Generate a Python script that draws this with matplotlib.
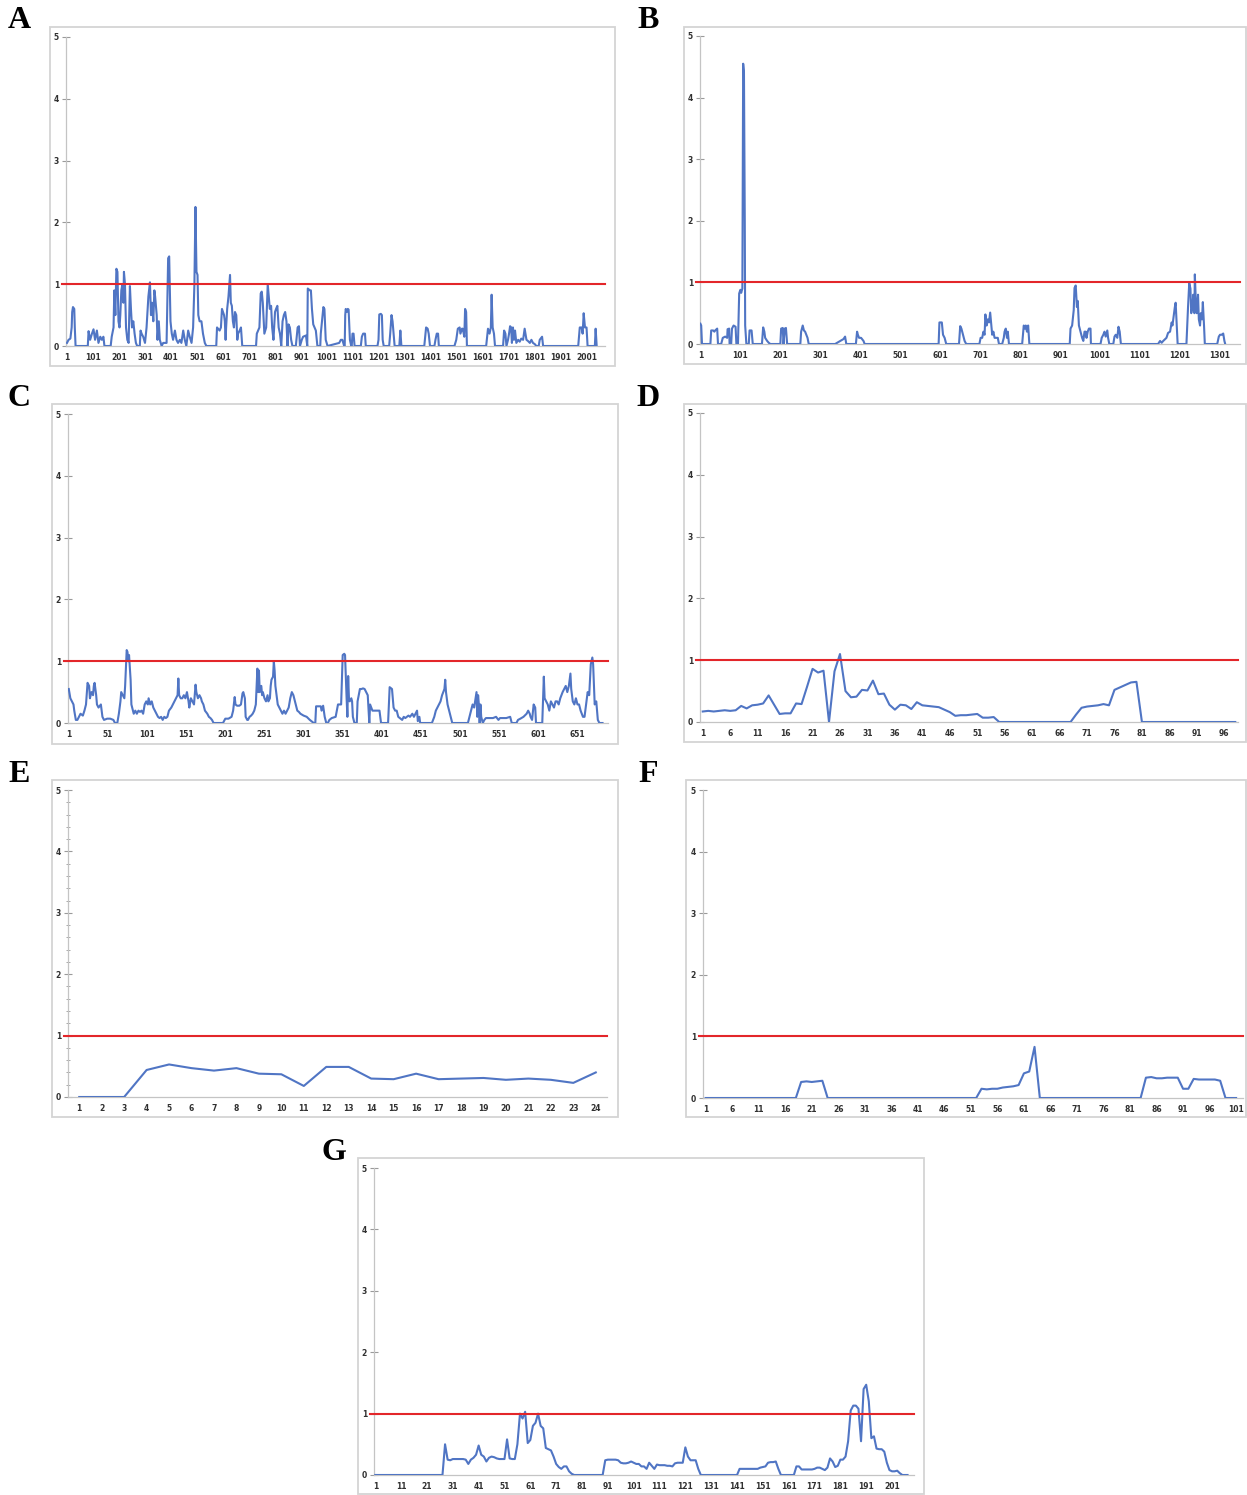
import numpy as np
import matplotlib
matplotlib.use("Agg")
import matplotlib.pyplot as plt
from matplotlib.patches import Rectangle

# ---------------- data ----------------
# A: vertices (position, value)
A_X = [1, 7, 14, 19, 21, 24, 29, 31, 34, 81, 84, 90, 97, 103, 109, 116, 122, 129, 135, 141, 145,
       169, 173, 180, 183, 187, 191, 195, 199, 203, 206, 210, 214, 218, 220, 224, 228, 233, 238, 243,
       247, 251, 256, 261, 266, 271, 281, 284, 288, 294, 301, 307, 314, 320, 324, 328, 333, 337, 340,
       346, 349, 354, 358, 365, 371, 384, 390, 394, 399, 404, 409, 416, 422, 428, 435, 441, 448, 454,
       460, 467, 473, 480, 486, 491, 495, 499, 503, 506, 511, 518, 524, 531, 537, 575, 578, 588, 593,
       597, 601, 605, 608, 611, 613, 617, 622, 628, 631, 635, 639, 643, 647, 652, 656, 659, 665, 670,
       675, 728, 731, 741, 746, 750, 754, 760, 767, 773, 777, 781, 786, 790, 795, 801, 805, 810, 815,
       820, 825, 830, 835, 840, 845, 849, 853, 858, 863, 868, 881, 888, 893, 897, 904, 909, 920, 925,
       927, 935, 939, 943, 948, 953, 958, 964, 975, 977, 984, 987, 991, 996, 1003, 1048, 1054, 1060,
       1067, 1069, 1071, 1073, 1077, 1081, 1084, 1089, 1094, 1096, 1099, 1103, 1107, 1131, 1135, 1140,
       1147, 1150, 1195, 1199, 1202, 1208, 1212, 1215, 1219, 1240, 1244, 1249, 1253, 1257, 1261, 1279,
       1283, 1287, 1375, 1382, 1388, 1392, 1397, 1414, 1418, 1423, 1428, 1431, 1491, 1498, 1504, 1511,
       1514, 1520, 1523, 1529, 1532, 1536, 1539, 1613, 1620, 1626, 1631, 1634, 1638, 1643, 1647, 1678,
       1682, 1687, 1691, 1697, 1701, 1705, 1709, 1712, 1716, 1720, 1724, 1729, 1736, 1742, 1748, 1755,
       1761, 1768, 1774, 1781, 1787, 1793, 1800, 1806, 1815, 1819, 1828, 1832, 1967, 1973, 1980, 1984,
       1988, 1993, 1999, 2003, 2031, 2034, 2038]
A_Y = [0.05, 0.1, 0.12, 0.3, 0.55, 0.63, 0.6, 0.3, 0, 0, 0.24, 0.1, 0.2, 0.27, 0.1, 0.25, 0.05, 0.15,
       0.1, 0.15, 0, 0, 0.15, 0.3, 0.9, 0.5, 1.25, 1.2, 0.4, 0.3, 0.5, 0.9, 1.0, 0.7, 1.2, 1.0, 0.3,
       0.1, 0.05, 0.97, 0.6, 0.3, 0.4, 0.2, 0.05, 0, 0, 0.25, 0.2, 0.15, 0.05, 0.3, 0.8, 1.03, 0.5,
       0.7, 0.4, 0.9, 0.8, 0.5, 0.1, 0.4, 0.1, 0, 0.05, 0.05, 1.42, 1.45, 0.4, 0.2, 0.1, 0.25, 0.1,
       0.05, 0.1, 0.05, 0.25, 0.1, 0, 0.25, 0.15, 0.05, 0.3, 1.0, 2.25, 1.2, 1.15, 0.5, 0.4, 0.4, 0.2,
       0.05, 0, 0, 0.3, 0.25, 0.3, 0.6, 0.55, 0.5, 0.4, 0.1, 0.3, 0.6, 0.8, 1.15, 0.7, 0.65, 0.4, 0.3,
       0.55, 0.5, 0.1, 0.2, 0.25, 0.3, 0, 0, 0.2, 0.3, 0.85, 0.88, 0.7, 0.2, 0.3, 1.0, 0.8, 0.6, 0.65,
       0.3, 0.1, 0.55, 0.6, 0.65, 0.3, 0.2, 0, 0.4, 0.5, 0.55, 0.4, 0, 0.35, 0.3, 0.1, 0, 0, 0.3, 0.32,
       0, 0.1, 0.15, 0.17, 0, 0.93, 0.9, 0.9, 0.6, 0.35, 0.3, 0.25, 0, 0, 0.2, 0.5, 0.63, 0.6, 0.1, 0,
       0.05, 0.1, 0.1, 0, 0, 0.5, 0.6, 0.55, 0.6, 0.59, 0.1, 0, 0, 0.2, 0.2, 0, 0, 0.15, 0.2, 0.2, 0,
       0, 0.1, 0.51, 0.52, 0.5, 0.1, 0, 0, 0.2, 0.5, 0.4, 0.2, 0, 0, 0.25, 0, 0, 0.3, 0.28, 0.2, 0, 0,
       0.1, 0.2, 0.2, 0, 0, 0.1, 0.28, 0.3, 0.2, 0.28, 0.28, 0.15, 0.6, 0.55, 0, 0, 0.28, 0.2, 0.3,
       0.83, 0.3, 0.2, 0, 0, 0.25, 0.2, 0, 0.1, 0.2, 0.32, 0.3, 0.05, 0.3, 0.1, 0.25, 0.05, 0.1, 0.07,
       0.12, 0.1, 0.28, 0.1, 0.08, 0.05, 0.1, 0.05, 0.03, 0, 0, 0.1, 0.15, 0, 0, 0.3, 0.3, 0.2, 0.53,
       0.3, 0.3, 0, 0, 0.28, 0]

B_X = [1, 3, 5, 26, 28, 33, 36, 38, 43, 45, 53, 57, 63, 68, 69, 73, 74, 78, 80, 84, 89, 91, 95, 98,
       101, 103, 106, 108, 110, 112, 113, 116, 122, 124, 129, 132, 155, 158, 161, 163, 168, 172, 176,
       201, 203, 207, 209, 212, 215, 218, 251, 253, 257, 260, 263, 266, 269, 272, 338, 343, 351, 359,
       363, 366, 390, 393, 395, 398, 403, 409, 412, 597, 599, 605, 608, 612, 616, 648, 651, 654, 658,
       662, 666, 699, 702, 706, 709, 712, 714, 717, 720, 723, 726, 729, 731, 734, 737, 745, 748, 756,
       760, 762, 765, 768, 770, 773, 806, 810, 813, 815, 818, 821, 824, 925, 927, 931, 935, 937, 940,
       943, 945, 948, 952, 956, 959, 962, 965, 967, 970, 973, 977, 978, 1002, 1005, 1009, 1012, 1015,
       1019, 1021, 1024, 1034, 1037, 1040, 1044, 1047, 1050, 1053, 1146, 1151, 1155, 1159, 1167, 1171,
       1176, 1180, 1182, 1185, 1188, 1190, 1192, 1195, 1217, 1221, 1224, 1227, 1229, 1232, 1234, 1237,
       1238, 1241, 1243, 1246, 1248, 1251, 1253, 1256, 1258, 1261, 1263, 1294, 1298, 1301, 1305, 1309,
       1312, 1314]
B_Y = [0.33, 0.3, 0, 0, 0.22, 0.22, 0.2, 0.22, 0.25, 0, 0, 0.1, 0.12, 0.1, 0.24, 0.25, 0, 0, 0.25,
       0.3, 0.28, 0, 0, 0.82, 0.88, 0.83, 0.9, 4.55, 4.4, 2.0, 0.3, 0, 0, 0.22, 0.22, 0, 0, 0.27, 0.2,
       0.1, 0.05, 0.02, 0, 0, 0.25, 0.26, 0, 0.25, 0.26, 0, 0, 0.2, 0.3, 0.22, 0.2, 0.15, 0.1, 0, 0,
       0.02, 0.05, 0.08, 0.12, 0, 0, 0.2, 0.15, 0.1, 0.1, 0.05, 0, 0, 0.35, 0.35, 0.15, 0.1, 0, 0,
       0.29, 0.25, 0.15, 0.05, 0, 0, 0.1, 0.1, 0.2, 0.15, 0.48, 0.3, 0.4, 0.35, 0.51, 0.3, 0.15, 0.2,
       0.1, 0.1, 0, 0, 0.1, 0.2, 0.25, 0.1, 0.2, 0, 0, 0.3, 0.25, 0.3, 0.2, 0.3, 0, 0, 0.25, 0.3, 0.55,
       0.91, 0.95, 0.6, 0.7, 0.3, 0.2, 0.1, 0.05, 0.2, 0.2, 0.1, 0.2, 0.25, 0.25, 0, 0, 0.1, 0.15, 0.2,
       0.12, 0.22, 0.1, 0, 0, 0.12, 0.15, 0.1, 0.28, 0.2, 0, 0, 0.05, 0.02, 0.05, 0.1, 0.18, 0.2, 0.35,
       0.3, 0.45, 0.6, 0.67, 0.4, 0, 0, 0.6, 0.99, 0.9, 0.5, 0.6, 0.8, 0.5, 1.13, 0.6, 0.5, 0.8, 0.4,
       0.3, 0.5, 0.4, 0.68, 0.3, 0, 0, 0.12, 0.15, 0.15, 0.17, 0.05, 0]

C_X = [1, 3, 5, 7, 8, 10, 12, 14, 16, 19, 21, 23, 25, 27, 28, 30, 32, 33, 34, 36, 37, 39, 42, 44, 46,
       50, 54, 58, 60, 63, 65, 67, 68, 70, 72, 73, 75, 76, 77, 78, 80, 81, 83, 84, 86, 88, 90, 92, 94,
       96, 98, 100, 102, 103, 105, 107, 109, 111, 113, 115, 117, 119, 121, 123, 125, 127, 129, 132,
       134, 136, 138, 140, 141, 142, 144, 146, 148, 150, 152, 154, 155, 157, 159, 161, 163, 164, 166,
       168, 170, 171, 173, 175, 178, 180, 182, 184, 186, 198, 201, 205, 209, 211, 213, 214, 216, 219,
       221, 223, 224, 226, 227, 229, 230, 232, 234, 236, 238, 240, 242, 243, 244, 245, 247, 248, 249,
       251, 253, 255, 256, 258, 259, 260, 262, 263, 264, 265, 267, 268, 270, 272, 274, 276, 278, 280,
       282, 284, 286, 288, 291, 293, 295, 297, 301, 305, 309, 314, 316, 317, 320, 323, 324, 326, 328,
       330, 332, 334, 337, 342, 345, 349, 351, 353, 354, 356, 357, 358, 359, 360, 362, 363, 364, 366,
       369, 370, 373, 375, 377, 379, 381, 383, 385, 386, 389, 392, 396, 398, 400, 409, 411, 414, 416,
       418, 420, 422, 427, 429, 431, 435, 437, 440, 442, 444, 446, 447, 449, 450, 465, 468, 470, 472,
       474, 476, 478, 481, 482, 483, 485, 487, 489, 491, 511, 513, 515, 517, 519, 522, 523, 524, 525,
       526, 527, 528, 530, 532, 534, 543, 547, 550, 552, 560, 565, 567, 573, 575, 578, 582, 586, 588,
       590, 591, 593, 595, 597, 598, 606, 608, 609, 611, 613, 615, 617, 619, 621, 623, 625, 627, 629,
       632, 634, 636, 638, 640, 642, 643, 645, 647, 649, 651, 653, 655, 658, 660, 662, 664, 666, 668,
       670, 671, 673, 675, 677, 679, 683]
C_Y = [0.55, 0.4, 0.35, 0.3, 0.2, 0.05, 0.05, 0.1, 0.15, 0.12, 0.2, 0.3, 0.65, 0.6, 0.4, 0.5, 0.45,
       0.6, 0.65, 0.45, 0.3, 0.25, 0.3, 0.1, 0.05, 0.07, 0.07, 0.05, 0, 0, 0.15, 0.35, 0.5, 0.45, 0.4,
       0.6, 1.18, 1.15, 1.0, 1.1, 0.7, 0.3, 0.2, 0.15, 0.2, 0.15, 0.2, 0.18, 0.2, 0.15, 0.3, 0.35, 0.3,
       0.4, 0.3, 0.35, 0.25, 0.2, 0.15, 0.1, 0.08, 0.1, 0.05, 0.1, 0.08, 0.1, 0.2, 0.25, 0.3, 0.35,
       0.4, 0.45, 0.72, 0.45, 0.4, 0.4, 0.45, 0.4, 0.5, 0.35, 0.25, 0.4, 0.35, 0.3, 0.62, 0.5, 0.4,
       0.45, 0.4, 0.35, 0.3, 0.2, 0.15, 0.1, 0.08, 0.05, 0, 0, 0.07, 0.07, 0.1, 0.2, 0.42, 0.3, 0.28,
       0.28, 0.3, 0.48, 0.5, 0.4, 0.1, 0.05, 0.05, 0.1, 0.12, 0.15, 0.2, 0.3, 0.88, 0.5, 0.85, 0.5,
       0.6, 0.45, 0.5, 0.4, 0.35, 0.45, 0.35, 0.4, 0.6, 0.7, 0.75, 1.0, 0.85, 0.6, 0.4, 0.3, 0.25, 0.2,
       0.15, 0.2, 0.15, 0.2, 0.25, 0.4, 0.5, 0.45, 0.3, 0.2, 0.18, 0.15, 0.12, 0.1, 0.05, 0, 0, 0.27,
       0.27, 0.27, 0.2, 0.28, 0.1, 0, 0, 0.05, 0.08, 0.1, 0.3, 0.3, 1.1, 1.12, 1.1, 0.4, 0.1, 0.76,
       0.4, 0.35, 0.4, 0.35, 0.1, 0, 0, 0.35, 0.55, 0.55, 0.56, 0.55, 0.5, 0.45, 0, 0.3, 0.2, 0.2, 0.2,
       0.2, 0, 0, 0.58, 0.55, 0.25, 0.2, 0.2, 0.1, 0.05, 0.1, 0.08, 0.12, 0.1, 0.15, 0.1, 0.15, 0.2,
       0.03, 0.1, 0, 0, 0.1, 0.2, 0.25, 0.3, 0.35, 0.45, 0.55, 0.7, 0.5, 0.3, 0.2, 0.1, 0, 0, 0.1, 0.2,
       0.3, 0.25, 0.5, 0.1, 0.45, 0.3, 0, 0.3, 0.1, 0, 0.05, 0.08, 0.08, 0.1, 0.05, 0.08, 0.08, 0.1, 0,
       0, 0.05, 0.07, 0.1, 0.15, 0.2, 0.15, 0.1, 0.05, 0.3, 0.25, 0, 0, 0.75, 0.4, 0.35, 0.3, 0.2,
       0.35, 0.3, 0.25, 0.35, 0.35, 0.3, 0.4, 0.5, 0.55, 0.6, 0.5, 0.6, 0.8, 0.55, 0.35, 0.3, 0.4, 0.3,
       0.3, 0.2, 0.1, 0.1, 0.3, 0.5, 0.45, 0.95, 1.06, 0.95, 0.3, 0.35, 0.05, 0, 0]

D_Y = [0.17, 0.18, 0.17, 0.18, 0.19, 0.18, 0.19, 0.26, 0.22, 0.27, 0.28, 0.30, 0.43, 0.28, 0.13,
       0.14, 0.14, 0.30, 0.29, 0.57, 0.86, 0.80, 0.83, 0.0, 0.82, 1.10, 0.50, 0.40, 0.41, 0.52, 0.51,
       0.67, 0.45, 0.46, 0.28, 0.20, 0.28, 0.27, 0.21, 0.32, 0.27, 0.26, 0.25, 0.24, 0.20, 0.16, 0.10,
       0.11, 0.11, 0.12, 0.13, 0.07, 0.07, 0.08, 0, 0, 0, 0, 0, 0, 0, 0, 0, 0, 0, 0, 0, 0, 0.12, 0.23,
       0.25, 0.26, 0.27, 0.29, 0.27, 0.52, 0.56, 0.60, 0.64, 0.65, 0, 0, 0, 0, 0, 0, 0, 0, 0, 0, 0, 0,
       0, 0, 0, 0, 0, 0]

E_Y = [0, 0, 0, 0.44, 0.53, 0.47, 0.43, 0.47, 0.38, 0.37, 0.18, 0.49, 0.49, 0.30, 0.29, 0.38, 0.29,
       0.30, 0.31, 0.28, 0.30, 0.28, 0.23, 0.40]

F_Y = [0] * 18 + [0.26, 0.27, 0.26, 0.27, 0.28, 0] + [0] * 28 + \
      [0.15, 0.14, 0.15, 0.15, 0.17, 0.18, 0.19, 0.21, 0.40, 0.43, 0.83, 0] + [0] * 19 + \
      [0.33, 0.34, 0.32, 0.32, 0.33, 0.33, 0.33, 0.15, 0.15, 0.31, 0.30, 0.30, 0.30, 0.30, 0.28,
       0, 0, 0]

G_Y = [0] * 27 + \
      [0.5, 0.25, 0.24, 0.26, 0.26, 0.26, 0.26, 0.26, 0.25, 0.18, 0.25, 0.28, 0.33, 0.48, 0.33, 0.3,
       0.22, 0.28, 0.3, 0.29, 0.27, 0.26, 0.26, 0.26, 0.58, 0.27, 0.26, 0.26, 0.5, 1.0, 0.92, 1.03,
       0.52, 0.57, 0.8, 0.85, 1.0, 0.8, 0.76, 0.44, 0.42, 0.4, 0.3, 0.18, 0.13, 0.1, 0.14, 0.14, 0.06,
       0.02, 0] + [0] * 11 + \
      [0.24, 0.25, 0.25, 0.25, 0.25, 0.24, 0.2, 0.19, 0.19, 0.2, 0.22, 0.2, 0.18, 0.18, 0.14, 0.14,
       0.1, 0.2, 0.15, 0.1, 0.17, 0.16, 0.16, 0.16, 0.15, 0.15, 0.14, 0.19, 0.2, 0.2, 0.2, 0.45, 0.3,
       0.24, 0.24, 0.24, 0.1, 0] + [0] * 14 + \
      [0.1, 0.1, 0.1, 0.1, 0.1, 0.1, 0.1, 0.1, 0.12, 0.13, 0.14, 0.2, 0.21, 0.21, 0.22, 0.1, 0] + \
      [0] * 5 + \
      [0.14, 0.14, 0.09, 0.09, 0.09, 0.09, 0.09, 0.1, 0.12, 0.12, 0.1, 0.08, 0.12, 0.27, 0.22, 0.13,
       0.15, 0.25, 0.25, 0.3, 0.55, 1.05, 1.13, 1.13, 1.08, 0.55, 1.4, 1.47, 1.2, 0.6, 0.63, 0.43,
       0.42, 0.42, 0.38, 0.2, 0.08, 0.06, 0.06, 0.07, 0.03, 0, 0, 0]

THRESHOLD = 1.0

# ---------------- figure ----------------
W, H = 1247, 1495
fig = plt.figure(figsize=(W / 100, H / 100), dpi=100)
BLUE = '#5075c4'
RED = '#e3262a'
GRID = '#c4c4c4'


def fig_rect(l, t, r, b):
    return [l / W, 1 - b / H, (r - l) / W, (b - t) / H]


def panel(letter, letter_xy, frame, axbox, x, y, xlim, xticks, minor=False):
    l, t, r, b = frame
    fig.patches.append(Rectangle((l / W, 1 - b / H), (r - l) / W, (b - t) / H,
                                 transform=fig.transFigure, fill=False,
                                 edgecolor='#d4d4d4', linewidth=1.3))
    fig.text(letter_xy[0] / W, 1 - letter_xy[1] / H, letter, ha='center', va='center',
             fontsize=23, fontweight='bold', family='Liberation Serif')
    ax = fig.add_axes(fig_rect(*axbox))
    ax.set_facecolor('none')
    ax.plot(x, y, color=BLUE, linewidth=1.5, solid_joinstyle='round', zorder=3)
    ax.axhline(THRESHOLD, xmin=-0.008, xmax=1.0, color=RED, linewidth=1.5,
               clip_on=False, zorder=4)
    ax.set_xlim(*xlim)
    ax.set_ylim(0, 5)
    for s in ['top', 'right']:
        ax.spines[s].set_visible(False)
    ax.spines['left'].set_color(GRID)
    ax.spines['bottom'].set_color(GRID)
    ax.spines['left'].set_linewidth(0.9)
    ax.spines['bottom'].set_linewidth(0.9)
    ax.set_yticks(range(0, 6))
    ax.tick_params(axis='y', direction='inout', length=6, width=0.8, color='#9a9a9a',
                   labelsize=5.5, labelcolor='#303030', pad=2)
    if minor:
        ax.set_yticks(np.arange(0, 5.01, 0.2), minor=True)
        ax.tick_params(axis='y', which='minor', direction='inout', length=3, width=0.6,
                       color='#9a9a9a')
    ax.set_xticks(xticks)
    ax.set_xticklabels([str(v) for v in xticks])
    ax.tick_params(axis='x', length=0, labelsize=5.5, labelcolor='#303030', pad=5)
    for lab in ax.get_xticklabels() + ax.get_yticklabels():
        lab.set_fontweight('bold')
    return ax


panel('A', (19, 21), (50, 27, 615, 366), (66, 37, 605, 346), A_X, A_Y,
      (-2.8, 2070), list(range(1, 2002, 100)))
panel('B', (648, 21), (684, 27, 1246, 364), (700, 36, 1240, 344), B_X, B_Y,
      (0, 1351), list(range(1, 1302, 100)))
panel('C', (19, 399), (52, 404, 618, 744), (68, 414, 608, 723), C_X, C_Y,
      (0, 690), list(range(1, 652, 50)))
panel('D', (648, 399), (684, 404, 1246, 742), (700, 413, 1238, 722),
      np.arange(1, len(D_Y) + 1), D_Y, (0.5, 98.5), list(range(1, 97, 5)))
panel('E', (19, 775), (52, 780, 618, 1117), (68, 790, 607, 1097),
      np.arange(1, len(E_Y) + 1), E_Y, (0.5, 24.5), list(range(1, 25)), minor=True)
panel('F', (648, 775), (686, 780, 1246, 1117), (703, 790, 1243, 1098),
      np.arange(1, len(F_Y) + 1), F_Y, (0.5, 102.3), list(range(1, 102, 5)))
panel('G', (334, 1153), (358, 1158, 924, 1494), (374, 1168, 914, 1475),
      np.arange(1, len(G_Y) + 1), G_Y, (0.5, 209.5), list(range(1, 202, 10)))

fig.savefig('out.png', dpi=100)
